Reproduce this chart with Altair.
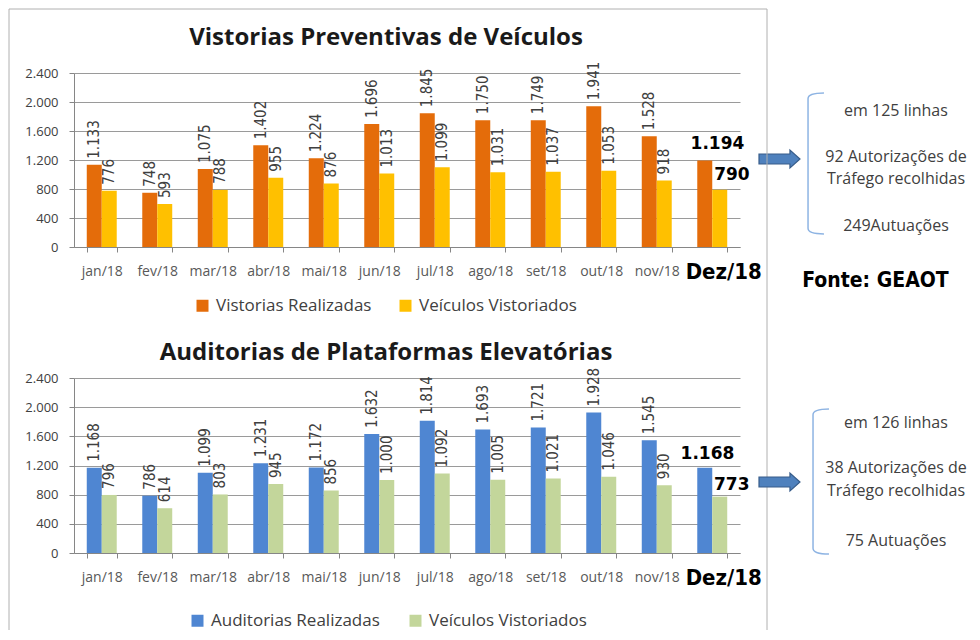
import altair as alt
import pandas as pd

months = ["jan/18", "fev/18", "mar/18", "abr/18", "mai/18", "jun/18",
          "jul/18", "ago/18", "set/18", "out/18", "nov/18", "Dez/18"]
vp_realizadas = [1133, 748, 1075, 1402, 1224, 1696, 1845, 1750, 1749, 1941, 1528, 1194]
vp_vistoriados = [776, 593, 788, 955, 876, 1013, 1099, 1031, 1037, 1053, 918, 790]
ap_realizadas = [1168, 786, 1099, 1231, 1172, 1632, 1814, 1693, 1721, 1928, 1545, 1168]
ap_vistoriados = [796, 614, 803, 945, 856, 1000, 1092, 1005, 1021, 1046, 930, 773]
y_ticks = [0, 400, 800, 1200, 1600, 2000, 2400]

title_top = "Vistorias Preventivas de Veículos"
title_bottom = "Auditorias de Plataformas Elevatórias"
series_top = ["Vistorias Realizadas", "Veículos Vistoriados"]
series_bottom = ["Auditorias Realizadas", "Veículos Vistoriados"]
colors_top = ["#E46C0A", "#FFC000"]
colors_bottom = ["#4F86D2", "#C3D69B"]
notes_top = ["em 125 linhas", "92 Autorizações de", "Tráfego recolhidas", "249Autuações"]
notes_bottom = ["em 126 linhas", "38 Autorizações de", "Tráfego recolhidas", "75 Autuações"]
source_text = "Fonte: GEAOT"

FONT = "Open Sans"
NARROW = "Liberation Sans Narrow, DejaVu Sans Condensed, sans-serif"
DEZ = "datum.value === 'Dez/18'"
FMT = "replace(format(datum.value, ','), ',', '.')"

ARROW = "M-1,-0.244L0.51,-0.244L0.51,-0.44L1,0L0.51,0.44L0.51,0.244L-1,0.244Z"


def one(mark):
    return alt.Chart(alt.Data(values=[{}])).mark_text(**mark)


def panel(title, series, v1, v2, colors, height, dez_off, title_y, legend_xy,
          col_pad, arrow_y, bracket, notes, notes_y, extra):
    df = pd.DataFrame({
        "month": months * 2,
        "series": [series[0]] * 12 + [series[1]] * 12,
        "slot": ["a"] * 12 + ["b"] * 12,
        "value": v1 + v2,
    })
    base = alt.Chart(df).transform_calculate(label=FMT)
    x = alt.X("month:N", sort=months, title=None,
              scale=alt.Scale(paddingInner=0.46, paddingOuter=0.23),
              axis=alt.Axis(
                  labelAngle=0, tickBand="extent", tickSize=5, grid=False,
                  domainColor="#868686", tickColor="#868686",
                  labelFont={"condition": {"test": DEZ, "value": NARROW}, "value": FONT},
                  labelFontSize={"condition": {"test": DEZ, "value": 22}, "value": 14},
                  labelFontWeight={"condition": {"test": DEZ, "value": "bold"}, "value": "normal"},
                  labelColor={"condition": {"test": DEZ, "value": "#000000"}, "value": "#595959"},
                  labelOffset={"condition": {"test": DEZ, "value": 11}, "value": 0},
                  labelBaseline="middle", labelPadding=19, labelOverlap=False, labelLimit=0))
    xo = alt.XOffset("slot:N", sort=["a", "b"])
    y = alt.Y("value:Q", title=None,
              scale=alt.Scale(domain=[0, 2400], nice=False),
              axis=alt.Axis(values=y_ticks, tickCount=20, labelExpr=FMT, grid=True,
                            gridColor="#9a9a9a", labelOverlap=False,
                            domainColor="#868686", tickColor="#868686", tickSize=5,
                            labelFont=FONT, labelFontSize=13, labelColor="#404040",
                            labelPadding=11))
    bars = base.mark_bar().encode(
        x=x, xOffset=xo, y=y,
        color=alt.Color("series:N", sort=series,
                        scale=alt.Scale(domain=series, range=colors),
                        legend=alt.Legend(title=None, orient="none", legendX=legend_xy[0],
                                          legendY=legend_xy[1], direction="horizontal",
                                          symbolType="square", symbolSize=144,
                                          symbolStrokeWidth=0, labelFont=FONT,
                                          labelFontSize=17, labelColor="#404040",
                                          labelOffset=5, columnPadding=col_pad,
                                          padding=0, labelLimit=0)))
    xs = alt.X("month:N", sort=months)
    labels = base.transform_filter("datum.month !== 'Dez/18'").mark_text(
        angle=270, align="left", baseline="middle", dx=6, font=NARROW,
        fontSize=15, color="#404040").encode(x=xs, xOffset=xo, y="value:Q", text="label:N")
    layers = [bars, labels]
    for s, (dx, dy) in zip(series, dez_off):
        layers.append(base.transform_filter(
            f"datum.month === 'Dez/18' && datum.series === '{s}'").mark_text(
            align="center", baseline="middle", dx=dx, dy=dy, font="DejaVu Sans",
            fontWeight="bold", fontSize=17, color="#000000").encode(
            x=xs, xOffset=xo, y="value:Q", text="label:N"))
    layers.append(one(dict(text=title, font=FONT, fontWeight="bold", fontSize=24,
                           color="#1a1a1a", align="center", baseline="middle"))
                  .encode(x=alt.value(312), y=alt.value(title_y)))
    # arrow
    layers.append(alt.Chart(alt.Data(values=[{}])).mark_point(
        shape=ARROW, size=1681, filled=True, fill="#4F81BD", stroke="#385D8A",
        strokeWidth=1.2, opacity=1).encode(x=alt.value(705.5), y=alt.value(arrow_y)))
    # bracket
    bx, by, r, hw = bracket
    k = hw / r
    bpath = f"M{k:.3f},-1Q{-k:.3f},-1 {-k:.3f},-0.92L{-k:.3f},0.92Q{-k:.3f},1 {k:.3f},1"
    layers.append(alt.Chart(alt.Data(values=[{}])).mark_point(
        shape=bpath, size=(2 * r) ** 2, filled=False, stroke="#8EB4E3",
        strokeWidth=1.5, opacity=1).encode(x=alt.value(bx), y=alt.value(by)))
    for t, ty in zip(notes, notes_y):
        layers.append(one(dict(text=t, font=FONT, fontSize=16, color="#404040",
                               align="center", baseline="middle"))
                      .encode(x=alt.value(822), y=alt.value(ty)))
    layers += extra
    return alt.layer(*layers).properties(width=666, height=height)


border = [
    alt.Chart(alt.Data(values=[{}])).mark_rule(color="#b0b0b0", strokeWidth=1).encode(
        x=alt.value(-65), y=alt.value(-64), y2=alt.value(557)),
    alt.Chart(alt.Data(values=[{}])).mark_rule(color="#b0b0b0", strokeWidth=1).encode(
        x=alt.value(693), y=alt.value(-64), y2=alt.value(557)),
    alt.Chart(alt.Data(values=[{}])).mark_rule(color="#b0b0b0", strokeWidth=1).encode(
        x=alt.value(-65), x2=alt.value(693), y=alt.value(-64)),
    one(dict(text=source_text, font=NARROW, fontWeight="bold", fontSize=21,
             color="#000000", align="center", baseline="middle"))
    .encode(x=alt.value(801.5), y=alt.value(208)),
]

top = panel(title_top, series_top, vp_realizadas, vp_vistoriados, colors_top, 174,
            [(12.7, -16), (12.2, -15)], -35, (120, 224), 25, 86,
            (742, 90.5, 70.5, 8), notes_top, [38, 84, 106, 153], border)
bottom = panel(title_bottom, series_bottom, ap_realizadas, ap_vistoriados, colors_bottom, 175,
               [(2.7, -14), (12, -12)], -25, (115, 234), 27, 104,
               (747, 103.5, 72.5, 8), notes_bottom, [45, 90, 113, 163], [])

chart = alt.vconcat(top, bottom, spacing=131, bounds="flush").resolve_scale(
    color="independent").resolve_legend(color="independent").configure_view(
    stroke=None).properties(padding=0, background="white")

chart.save("out.html", embed_options={"renderer": "svg", "actions": False})
